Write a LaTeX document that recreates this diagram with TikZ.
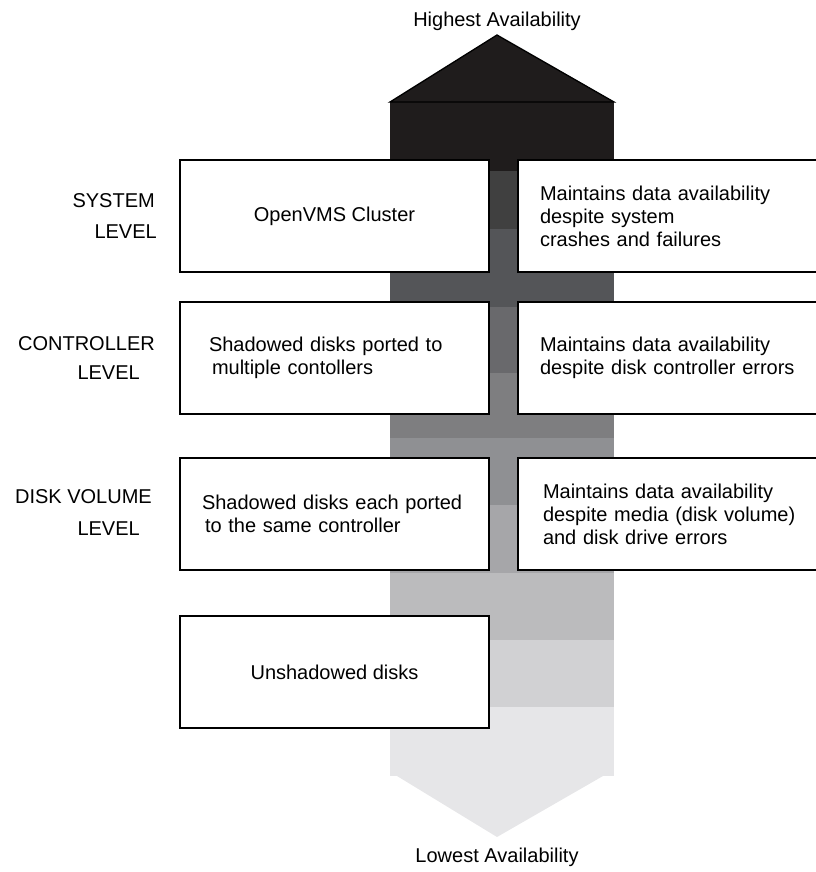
\documentclass[tikz,border=0pt]{standalone}
\usepackage{fontspec}
\setmainfont{Liberation Sans}
\definecolor{bA}{HTML}{1F1C1C}
\definecolor{bB}{HTML}{404040}
\definecolor{bC}{HTML}{545558}
\definecolor{bD}{HTML}{69696C}
\definecolor{bE}{HTML}{7E7E80}
\definecolor{bF}{HTML}{8F9093}
\definecolor{bG}{HTML}{A6A6A9}
\definecolor{bH}{HTML}{BBBBBD}
\definecolor{bI}{HTML}{D1D1D3}
\definecolor{bJ}{HTML}{E6E6E8}
\begin{document}
\begin{tikzpicture}[x=1bp,y=-1bp,
  font=\fontsize{20bp}{23bp}\selectfont,
  box/.style={draw=black, line width=1.5bp, fill=white, minimum height=112bp},
  lbox/.style={box, minimum width=309bp},
  rbox/.style={box, minimum width=312bp, text width=268bp, inner xsep=22bp, align=left},
  lvl/.style={inner sep=0pt, anchor=base east},
  ttl/.style={inner sep=0pt, anchor=base}]
\useasboundingbox (0,0) rectangle (816,872);
\clip (0,0) rectangle (816,872);
% shaft bands
\fill[bA] (390,101) rectangle (614,171);
\fill[bB] (390,171) rectangle (614,229);
\fill[bC] (390,229) rectangle (614,307);
\fill[bD] (390,307) rectangle (614,373);
\fill[bE] (390,373) rectangle (614,438);
\fill[bF] (390,438) rectangle (614,505);
\fill[bG] (390,505) rectangle (614,573);
\fill[bH] (390,573) rectangle (614,640);
\fill[bI] (390,640) rectangle (614,707);
\fill[bJ] (390,707) rectangle (614,776);
% arrow heads
\filldraw[fill=bA, draw=black, line width=1.3bp, line join=miter] (390,102) -- (497,35) -- (614,102) -- cycle;
\fill[bJ] (397,776) -- (497,837) -- (603,776) -- cycle;
% titles
\node[ttl] (hi) at (497,26) {Highest Availability};
\node[ttl] (lo) at (497,862) {Lowest Availability};
% level labels
\node[lvl] (l1a) at (155,207.5) {SYSTEM};
\node[lvl] (l1b) at (157,238) {LEVEL};
\node[lvl] (l2a) at (155,350) {CONTROLLER};
\node[lvl] (l2b) at (140,379) {LEVEL};
\node[lvl] (l3a) at (152,503) {DISK VOLUME};
\node[lvl] (l3b) at (140,535) {LEVEL};
% left boxes
\node[lbox] (sys) at (334.5,216) {OpenVMS Cluster};
\node[lbox, text width=251bp, inner xsep=29bp, align=left] (ctl) at (334.5,358)
  {Shadowed disks ported to\\\hspace*{3bp}multiple contollers};
\node[lbox, text width=265bp, inner xsep=22bp, align=left] (dsk) at (334.5,514)
  {Shadowed disks each ported\\\hspace*{3bp}to the same controller};
\node[lbox] (uns) at (334.5,672) {Unshadowed disks};
% right boxes
\node[rbox] (sysr) at (674,216)
  {Maintains data availability\\despite system\\crashes and failures};
\node[rbox] (ctlr) at (674,358)
  {Maintains data availability\\despite disk controller errors};
\node[rbox, inner xsep=25bp, text width=262bp] (dskr) at (674,514)
  {Maintains data availability\\despite media (disk volume)\\and disk drive errors};
\end{tikzpicture}
\end{document}
